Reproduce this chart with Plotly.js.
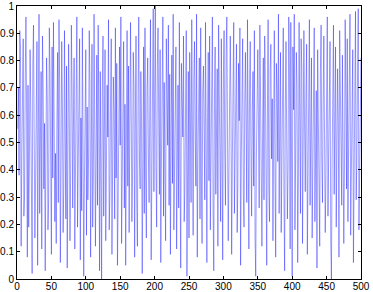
<!DOCTYPE html>
<html><head><meta charset="utf-8">
<script src="https://cdn.plot.ly/plotly-3.0.1.min.js"></script>
<style>html,body{margin:0;padding:0;background:#fff}#chart{width:373px;height:292px}</style>
</head><body><div id="chart"></div>
<script>
const seg1=[0.55,0.70,0.38,0.91,0.85,0.12,0.45,0.67,0.88,0.23,0.31,0.74,0.96,0.59,0.08,0.71,0.19,0.42,0.84,0.63,0.27,0.02,0.79,0.93,0.52,0.15,0.36,0.68,0.87,0.05,0.61,0.97,0.24,0.48,0.76,0.11,0.89,0.72,0.33,0.57,0.03,0.44,0.81,0.66,0.18,0.29,0.92,0.75,0.51,0.09];
const seg2=[0.85,0.37,0.94,0.69,0.21,0.46,0.13,0.58,0.83,0.28,0.95,0.72,0.06,0.41,0.87,0.64,0.17,0.34,0.91,0.53,0.22,0.78,0.04,0.47,0.86,0.62,0.14,0.39,0.93,0.71,0.26,0.55,0.81,0.11,0.32,0.67,0.96,0.19,0.43,0.74,0.88,0.07,0.59,0.25,0.92,0.49,0.01,0.35,0.77,0.84];
const seg3=[0.16,0.63,0.29,0.44,0.91,0.72,0.08,0.54,0.86,0.19,0.38,0.97,0.65,0.12,0.47,0.82,0.27,0.93,0.58,0.03,0.76,0.41,0.00,0.69,0.89,0.23,0.57,0.84,0.14,0.36,0.71,0.52,0.95,0.18,0.31,0.66,0.88,0.09,0.45,0.74,0.61,0.22,0.92,0.37,0.79,0.05,0.27,0.68,0.85,0.49];
const seg4=[0.96,0.13,0.42,0.73,0.87,0.26,0.64,0.05,0.55,0.91,0.34,0.78,0.17,0.48,0.94,0.62,0.21,0.39,0.83,0.71,0.08,0.56,0.89,0.29,0.12,0.67,0.96,0.44,0.33,0.76,0.58,0.02,0.51,0.85,0.24,0.92,0.37,0.15,0.69,0.81,0.46,0.28,0.63,0.95,0.07,0.53,0.74,0.99,0.32,0.86];
const seg5=[1.00,0.41,0.19,0.78,0.92,0.57,0.31,0.84,0.06,0.45,0.67,0.96,0.23,0.72,0.38,0.14,0.88,0.61,0.49,0.93,0.27,0.75,0.09,0.54,0.82,0.35,0.97,0.18,0.43,0.66,0.85,0.11,0.58,0.71,0.26,0.94,0.39,0.04,0.79,0.63,0.52,0.89,0.21,0.33,0.68,0.91,0.01,0.47,0.76,0.15];
const seg6=[0.83,0.59,0.28,0.95,0.42,0.16,0.73,0.87,0.51,0.34,0.97,0.08,0.45,0.64,0.81,0.22,0.92,0.37,0.13,0.69,0.78,0.55,0.29,0.94,0.47,0.06,0.61,0.83,0.36,0.89,0.18,0.44,0.72,0.96,0.25,0.03,0.65,0.85,0.31,0.53,0.77,0.12,0.93,0.68,0.48,0.21,0.88,0.39,0.07,0.74];
const seg7=[0.91,0.46,0.27,0.82,0.96,0.53,0.14,0.38,0.75,0.89,0.62,0.09,0.43,0.71,0.94,0.24,0.51,0.67,0.86,0.17,0.35,0.79,0.58,0.92,0.05,0.44,0.73,0.88,0.31,0.19,0.64,0.83,0.56,0.28,0.95,0.41,0.11,0.69,0.87,0.49,0.23,0.62,0.76,0.34,0.91,0.15,0.01,0.45,0.72,0.84];
const seg8=[0.57,0.26,0.93,0.68,0.39,0.12,0.54,0.81,0.29,0.89,0.73,0.47,0.05,0.62,0.95,0.33,0.21,0.77,0.86,0.44,0.66,0.14,0.52,0.91,0.37,0.08,0.79,0.69,0.43,0.97,0.24,0.58,0.83,0.17,0.46,0.74,0.92,0.31,0.03,0.63,0.87,0.51,0.22,0.41,0.96,0.76,0.11,0.94,0.35,0.01];
const seg9=[0.85,0.62,0.97,0.18,0.45,0.83,0.71,0.06,0.36,0.94,0.59,0.24,0.88,0.77,0.13,0.49,0.91,0.55,0.32,0.67,0.86,0.09,0.42,0.74,0.95,0.27,0.63,0.81,0.15,0.39,0.57,0.92,0.21,0.48,0.69,0.04,0.84,0.58,0.33,0.12,0.76,0.93,0.44,0.28,0.65,0.89,0.53,0.17,0.37,0.79];
const seg10=[0.96,0.23,0.51,0.68,0.87,0.14,0.00,0.42,0.74,0.93,0.31,0.62,0.85,0.19,0.46,0.77,0.58,0.08,0.91,0.69,0.36,0.27,0.82,0.54,0.13,0.41,0.95,0.66,0.33,0.88,0.21,0.49,0.73,0.97,0.16,0.38,0.61,0.84,0.06,0.52,0.71,0.98,0.29,0.44,0.76,0.99,0.18,0.35,0.63,0.81];
const xTicks=[0,50,100,150,200,250,300,350,400,450,500];
const yTicks=[0,0.1,0.2,0.3,0.4,0.5,0.6,0.7,0.8,0.9,1];

const yVals=[].concat(seg1,seg2,seg3,seg4,seg5,seg6,seg7,seg8,seg9,seg10);
const xVals=yVals.map((v,i)=>i+1);

const axisBase={showline:true,mirror:'ticks',linecolor:'#000',linewidth:1,ticks:'inside',ticklen:3,tickcolor:'#000',showgrid:false,zeroline:false,tickfont:{family:'Liberation Sans, Arial, sans-serif',size:10,color:'#000'}};
Plotly.newPlot('chart',[{x:xVals,y:yVals,type:'scatter',mode:'lines',line:{color:'rgba(0,0,255,0.75)',width:0.5},hoverinfo:'none'}],{
  width:373,height:292,margin:{l:17,r:12,t:6,b:13},
  paper_bgcolor:'#fff',plot_bgcolor:'#fff',showlegend:false,
  xaxis:Object.assign({},axisBase,{range:[0,500],tickvals:xTicks,ticktext:xTicks.map(String),ticklabelstandoff:-2}),
  yaxis:Object.assign({},axisBase,{range:[0,1],tickvals:yTicks,ticktext:yTicks.map(String)})
},{staticPlot:true,displayModeBar:false});
</script></body></html>
